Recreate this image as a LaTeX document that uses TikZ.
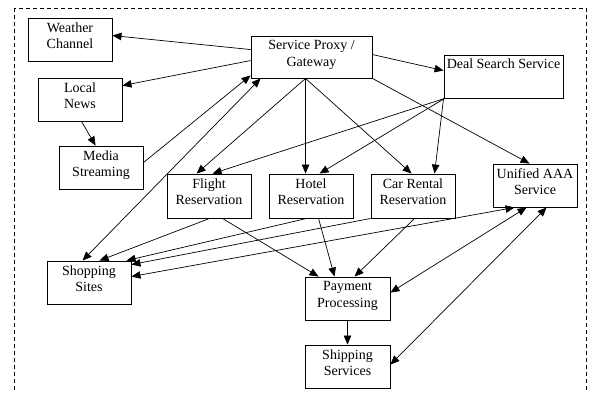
\documentclass[tikz,border=0pt]{standalone}
\usepackage{fontspec}
\setmainfont{Liberation Serif}
\usetikzlibrary{arrows.meta,calc}
\begin{document}
\begin{tikzpicture}[x=1pt,y=-1pt,
  box/.style={draw=black,line width=0.9pt,rectangle,inner sep=0pt,minimum width=84pt,minimum height=43pt},
  lbl/.style={anchor=north,align=center,inner sep=0pt,font=\fontsize{14}{16.7}\selectfont},
  conn/.style={line width=0.7pt,-{Triangle[length=9pt,width=7.5pt]}},
  bconn/.style={line width=0.7pt,{Triangle[length=9pt,width=7.5pt]}-{Triangle[length=9pt,width=7.5pt]}}]
\useasboundingbox (0,0) rectangle (593,392);
\begin{scope}
\clip (0,0) rectangle (593,392);
\draw[line width=0.8pt,dash pattern=on 4pt off 3pt] (14,8) rectangle (586,410);
\end{scope}
% boxes
\node[box] (wc) at (70,39.5) {};
\node[box] (ln) at (80,99.5) {};
\node[box] (ms) at (101,167.5) {};
\node[box,minimum width=121pt,minimum height=42pt] (gw) at (311.5,57) {};
\node[box,minimum width=119pt] (ds) at (503.5,76.5) {};
\node[box,minimum height=44pt] (fr) at (209,196) {};
\node[box,minimum height=44pt] (hr) at (311,196) {};
\node[box,minimum height=44pt] (cr) at (413,196) {};
\node[box] (aaa) at (535,185.5) {};
\node[box] (ss) at (89,282.5) {};
\node[box,minimum width=85pt] (pp) at (347.5,298.5) {};
\node[box,minimum width=85pt] (sh) at (347.5,366.5) {};
% labels
\node[lbl] (wct) at ($(wc.north)+(0,4.6)$) {Weather\\Channel};
\node[lbl] (lnt) at ($(ln.north)+(0,4.6)$) {Local\\News};
\node[lbl] (mst) at ($(ms.north)+(0,4.6)$) {Media\\Streaming};
\node[lbl] (gwt) at ($(gw.north)+(0,4.6)$) {Service Proxy /\\Gateway};
\node[lbl] (dst) at ($(ds.north)+(0,3.6)$) {Deal Search Service};
\node[lbl] (frt) at ($(fr.north)+(0,4.6)$) {Flight\\Reservation};
\node[lbl] (hrt) at ($(hr.north)+(0,4.6)$) {Hotel\\Reservation};
\node[lbl] (crt) at ($(cr.north)+(0,4.6)$) {Car Rental\\Reservation};
\node[lbl] (aaat) at ($(aaa.north)+(0,4.6)$) {Unified AAA\\Service};
\node[lbl] (sst) at ($(ss.north)+(0,4.6)$) {Shopping\\Sites};
\node[lbl] (ppt) at ($(pp.north)+(0,4.6)$) {Payment\\Processing};
\node[lbl] (sht) at ($(sh.north)+(0,4.6)$) {Shipping\\Services};
% connectors
\draw[conn] ($(gw.north west)+(0,14)$) -- ($(wc.north east)+(0,18)$);
\draw[conn] ($(gw.north west)+(0,25)$) -- ($(ln.north east)+(0,8)$);
\draw[conn] ($(ln.south west)+(44,0)$) -- ($(ms.north west)+(37,0)$);
\draw[conn] ($(ms.north east)+(0,17)$) -- ($(gw.south west)+(0,-3)$);
\draw[bconn] ($(ss.north west)+(36,0)$) -- ($(gw.south west)+(10,0)$);
\draw[conn] ($(gw.south west)+(55,0)$) -- ($(fr.north west)+(30,0)$);
\draw[conn] ($(gw.south west)+(55,0)$) -- ($(hr.north west)+(37,0)$);
\draw[conn] ($(gw.south west)+(55,0)$) -- ($(cr.north west)+(41,0)$);
\draw[conn] ($(gw.north east)+(0,19)$) -- ($(ds.north west)+(0,16)$);
\draw[conn] (gw.south east) -- ($(aaa.north west)+(37,0)$);
\draw[conn] ($(ds.south west)+(1,0)$) -- ($(fr.north west)+(46,0)$);
\draw[conn] ($(ds.south west)+(1,0)$) -- ($(hr.north west)+(51,0)$);
\draw[conn] (ds.south west) -- ($(cr.north west)+(64,0)$);
\draw[conn] ($(fr.south west)+(43,0)$) -- ($(ss.north west)+(53,0)$);
\draw[conn] ($(fr.south west)+(56,0)$) -- ($(pp.north west)+(14,0)$);
\draw[conn] ($(hr.south west)+(38,0)$) -- ($(ss.north west)+(80,0)$);
\draw[conn] ($(hr.south west)+(50,0)$) -- ($(pp.north west)+(30,0)$);
\draw[conn] (cr.south west) -- ($(ss.north east)+(0,4)$);
\draw[conn] ($(cr.south west)+(44,0)$) -- ($(pp.north west)+(50,0)$);
\draw[bconn] ($(ss.north east)+(0,16)$) -- ($(aaa.south west)+(22,0)$);
\draw[bconn] ($(pp.north east)+(0,16)$) -- ($(aaa.south west)+(34,0)$);
\draw[bconn] ($(sh.north east)+(0,20)$) -- ($(aaa.south west)+(54,0)$);
\draw[conn] (pp.south) -- (sh.north);
\end{tikzpicture}
\end{document}
